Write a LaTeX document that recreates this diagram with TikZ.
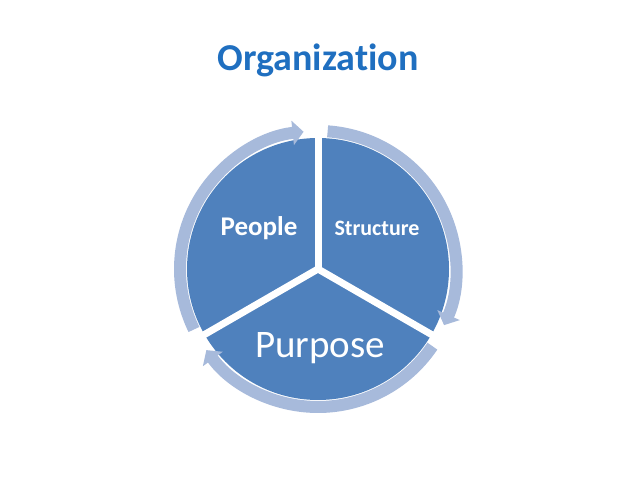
\documentclass[tikz,border=0pt]{standalone}
\usepackage{fontspec}
\setmainfont{Carlito}[Ligatures={NoCommon}]
\usetikzlibrary{arrows.meta,calc}
\definecolor{pie}{HTML}{4F81BD}
\definecolor{ringc}{HTML}{A7BADB}
\definecolor{titlec}{HTML}{1F6FC0}
\tikzset{
  ring/.style={draw=ringc,line width=12pt,-{Triangle[width=24pt,length=11pt]}},
  gap/.style={draw=white,line width=7pt},
  lbl/.style={text=white,font=\bfseries}
}
\begin{document}
\begin{tikzpicture}[x=1pt,y=1pt]
\useasboundingbox (0,0) rectangle (638,-478);
\coordinate (c) at (318,-269);
\node[text=titlec,font=\fontsize{38}{44}\selectfont\bfseries] (title) at (318,-60) {Organization};
\fill[pie] (c) circle[radius=131];
\draw[ring] ($(c)+(206:138)$) arc[start angle=206,end angle=96,radius=138];
\draw[ring] ($(c)+(86:138)$) arc[start angle=86,end angle=-24,radius=138];
\draw[ring] ($(c)+(326:138)$) arc[start angle=326,end angle=216,radius=138];
\foreach \a in {90,210,330}{\draw[gap] (c) -- ($(c)+(\a:140)$);}
\node[lbl,font=\fontsize{27}{32}\selectfont\bfseries] (people) at (259,-228) {People};
\node[lbl,font=\fontsize{22}{26}\selectfont\bfseries] (structure) at (377,-228) {Structure};
\node[text=white,font=\fontsize{39}{46}\selectfont] (purpose) at (320,-348) {Purpose};
\end{tikzpicture}
\end{document}
